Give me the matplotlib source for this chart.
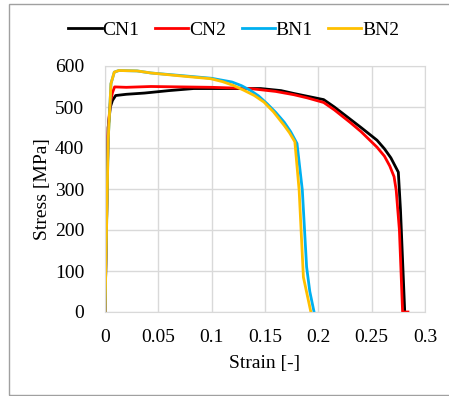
import matplotlib
matplotlib.use("Agg")
import matplotlib.pyplot as plt
from matplotlib.patches import Rectangle

plt.rcParams['font.family'] = ['Liberation Serif', 'DejaVu Serif']
plt.rcParams['font.size'] = 14

# Strain / stress curves
cn1_strain = [0, 0.002, 0.003, 0.005, 0.007, 0.010, 0.020, 0.037, 0.060, 0.083, 0.100,
              0.146, 0.165, 0.177, 0.190, 0.205, 0.215, 0.230, 0.240, 0.255, 0.262,
              0.268, 0.275, 0.277, 0.281]
cn1_stress = [0, 300, 450, 500, 516, 528, 531, 534, 540, 545, 545,
              545, 540, 533, 526, 518, 500, 470, 450, 419, 398,
              376, 341, 250, 0]

cn2_strain = [0, 0.002, 0.003, 0.005, 0.007, 0.009, 0.020, 0.043, 0.100, 0.136, 0.160,
              0.177, 0.190, 0.205, 0.215, 0.230, 0.240, 0.255, 0.262, 0.267, 0.271,
              0.273, 0.276, 0.279, 0.284]
cn2_stress = [0, 300, 450, 510, 535, 549, 548, 550, 548, 545, 538,
              530, 522, 511, 493, 462, 440, 402, 380, 356, 330,
              297, 200, 0, 0]

bn1_strain = [0, 0.002, 0.003, 0.0056, 0.0087, 0.013, 0.030, 0.043, 0.070, 0.100, 0.119,
              0.128, 0.136, 0.144, 0.152, 0.160, 0.168, 0.174, 0.180, 0.185, 0.189,
              0.192, 0.196]
bn1_stress = [0, 280, 420, 557, 585, 589, 588, 583, 577, 570, 561,
              552, 541, 527, 508, 487, 463, 440, 411, 297, 110,
              50, 0]

bn2_strain = [0, 0.002, 0.003, 0.0056, 0.0087, 0.013, 0.030, 0.043, 0.070, 0.099, 0.110,
              0.120, 0.130, 0.140, 0.149, 0.158, 0.168, 0.173, 0.178, 0.182, 0.186,
              0.193]
bn2_stress = [0, 280, 420, 557, 585, 589, 588, 583, 576, 569, 562,
              553, 541, 528, 512, 488, 455, 437, 415, 297, 85,
              0]

fig = plt.figure(figsize=(4.49, 3.96), dpi=100)
ax = fig.add_axes([105 / 449, 84 / 396, 320 / 449, 246 / 396])

ax.plot(cn1_strain, cn1_stress, color='black', lw=2, label='CN1')
ax.plot(cn2_strain, cn2_stress, color='#ff0000', lw=2, label='CN2')
ax.plot(bn1_strain, bn1_stress, color='#00b0f0', lw=2, label='BN1')
ax.plot(bn2_strain, bn2_stress, color='#ffc000', lw=2, label='BN2')

ax.set_xlim(0, 0.3)
ax.set_ylim(0, 600)
ax.set_xticks([0, 0.05, 0.1, 0.15, 0.2, 0.25, 0.3])
ax.set_xticklabels(['0', '0.05', '0.1', '0.15', '0.2', '0.25', '0.3'])
ax.set_yticks(range(0, 601, 100))
ax.grid(True, color='#d9d9d9', lw=1)
ax.set_axisbelow(True)
for s in ax.spines.values():
    s.set_color('#d9d9d9')
ax.tick_params(length=0, colors='#000000')
ax.tick_params(axis='y', pad=15)
ax.tick_params(axis='x', pad=12)

ax.set_xlabel('Strain [-]', labelpad=7)
ax.set_ylabel('Stress [MPa]', labelpad=3)

fig.legend(loc='center', bbox_to_anchor=(234 / 449, 1 - 30 / 396), ncol=4,
           frameon=False, handlelength=1.7, handletextpad=0.05, columnspacing=0.8)

# outer chart border
fig.patches.append(Rectangle((9 / 449, 1 / 396), 1.0, 391 / 396, transform=fig.transFigure,
                             fill=False, edgecolor='#a0a0a0', lw=1))

fig.savefig('out.png', dpi=100)
